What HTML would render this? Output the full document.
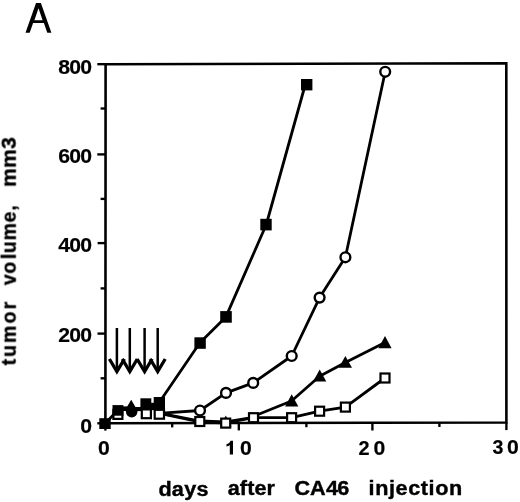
<!DOCTYPE html>
<html>
<head>
<meta charset="utf-8">
<title>A</title>
<style>
html,body{margin:0;padding:0;background:#fff;}
body{width:520px;height:502px;overflow:hidden;}
svg{display:block;position:absolute;left:0;top:0;}
text{font-family:"Liberation Sans",sans-serif;fill:#000;}
.ax{stroke:#000;stroke-width:2.35;fill:none;stroke-linecap:butt;}
.ln{stroke:#000;stroke-width:2.8;fill:none;stroke-linejoin:round;}
.fs{fill:#000;stroke:none;}
.os{fill:#fff;stroke:#000;stroke-width:2.2;}
.oc{fill:#fff;stroke:#000;stroke-width:2.4;}
.ar{stroke:#000;fill:none;}
</style>
</head>
<body>
<svg width="520" height="502" viewBox="0 0 520 502">
<defs><filter id="soft" x="-2%" y="-2%" width="104%" height="104%"><feGaussianBlur stdDeviation="0.45"/></filter></defs>
<rect x="0" y="0" width="520" height="502" fill="#fff"/>
<g filter="url(#soft)">

<!-- panel letter -->
<path class="fs" fill-rule="evenodd" d="M25.5 32.8 L36.0 3.1 L40.9 3.1 L51.4 32.8 L47.3 32.8 L43.9 23.0 L33.1 23.0 L29.7 32.8 Z M38.5 8.2 L42.6 20.3 L34.4 20.3 Z"/>
<!-- frame -->
<polygon class="ax" style="stroke-width:2.6" points="105.6,64.2 506.3,63.2 506.4,422.5 105.4,423.3"/>
<!-- y ticks -->
<g class="ax">
<line x1="97.3" y1="64.2" x2="105.6" y2="64.2"/>
<line x1="97.3" y1="154.4" x2="105.6" y2="154.4"/>
<line x1="97.6" y1="243.1" x2="105.6" y2="243.1"/>
<line x1="97.5" y1="333.6" x2="105.6" y2="333.6"/>
<line x1="97.3" y1="423.3" x2="105.6" y2="423.3"/>
<line x1="100.6" y1="108.5" x2="105.6" y2="108.5"/>
<line x1="100.6" y1="198.9" x2="105.6" y2="198.9"/>
<line x1="100.6" y1="288.4" x2="105.6" y2="288.4"/>
<line x1="100.6" y1="378.3" x2="105.6" y2="378.3"/>
</g>
<!-- x ticks -->
<g class="ax">
<line x1="105.4" y1="423.3" x2="105.4" y2="430.6"/>
<line x1="238.8" y1="423" x2="238.8" y2="430.4"/>
<line x1="372.4" y1="422.8" x2="372.4" y2="430.5"/>
<line x1="506.4" y1="422.5" x2="506.4" y2="430.1"/>
<line x1="172.2" y1="423.2" x2="172.2" y2="427.4"/>
<line x1="306.4" y1="422.9" x2="306.4" y2="427.2"/>
<line x1="439.4" y1="422.6" x2="439.4" y2="427"/>
</g>
<!-- y labels -->
<text transform="translate(91.4,73.8) scale(1.05,1.03)" font-size="20.2" font-weight="bold" stroke="#000" stroke-width="0.2" letter-spacing="-0.7" text-anchor="end" >800</text>
<text transform="translate(91.4,163.3) scale(1.05,1.03)" font-size="20.2" font-weight="bold" stroke="#000" stroke-width="0.2" letter-spacing="-0.7" text-anchor="end" >600</text>
<text transform="translate(91.4,252.4) scale(1.05,1.03)" font-size="20.2" font-weight="bold" stroke="#000" stroke-width="0.2" letter-spacing="-0.7" text-anchor="end" >400</text>
<text transform="translate(91.4,342.3) scale(1.05,1.03)" font-size="20.2" font-weight="bold" stroke="#000" stroke-width="0.2" letter-spacing="-0.7" text-anchor="end" >200</text>
<text transform="translate(91.4,433.2) scale(1.05,1.03)" font-size="20.2" font-weight="bold" stroke="#000" stroke-width="0.2" letter-spacing="-0.7" text-anchor="end" >0</text>
<!-- x labels -->
<text transform="translate(97.9,454.6) scale(1.05,1.03)" font-size="20.2" font-weight="bold" stroke="#000" stroke-width="0.2" letter-spacing="0" text-anchor="start" >0</text>
<path class="fs" transform="translate(225.3,454.6)" d="M7.7 -13.9 L5.2 -13.9 C4.7 -12.2 3.2 -10.9 1.2 -10.5 L1.2 -8.1 C2.6 -8.3 3.8 -8.8 4.5 -9.5 L4.5 0 L7.7 0 Z"/>
<text transform="translate(239.9,454.6) scale(1.05,1.03)" font-size="20.2" font-weight="bold" stroke="#000" stroke-width="0.2" letter-spacing="0" text-anchor="start" >0</text>
<text transform="translate(358.4,454.8) scale(0.985,1.03)" font-size="20.2" font-weight="bold" stroke="#000" stroke-width="0.2" letter-spacing="0" text-anchor="start" >2</text>
<text transform="translate(373.4,454.8) scale(1.05,1.03)" font-size="20.2" font-weight="bold" stroke="#000" stroke-width="0.2" letter-spacing="0" text-anchor="start" >0</text>
<text transform="translate(492.5,454.3) scale(0.97,1.03)" font-size="20.2" font-weight="bold" stroke="#000" stroke-width="0.2" letter-spacing="0" text-anchor="start" >3</text>
<text transform="translate(507.1,454.3) scale(1.05,1.03)" font-size="20.2" font-weight="bold" stroke="#000" stroke-width="0.2" letter-spacing="0" text-anchor="start" >0</text>
<!-- axis titles -->
<text transform="translate(158.4,495.7) scale(1.055,1)" font-size="20.5" font-weight="bold" stroke="#000" stroke-width="0.4" letter-spacing="0.25" text-anchor="start" >days</text>
<text transform="translate(227.7,495.1) scale(1.055,1)" font-size="20.5" font-weight="bold" stroke="#000" stroke-width="0.4" letter-spacing="0.1" text-anchor="start" >after</text>
<text transform="translate(294.5,494.9) scale(1.055,1)" font-size="20.5" font-weight="bold" stroke="#000" stroke-width="0.4" letter-spacing="-0.2" text-anchor="start" dx="0 0 0.7 -0.7">CA46</text>
<text transform="translate(368.6,494.5) scale(1.055,1)" font-size="20.5" font-weight="bold" stroke="#000" stroke-width="0.4" letter-spacing="0.55" text-anchor="start" >injection</text>
<g transform="translate(15.7,365.4) rotate(-90)">
<text transform="translate(0,0) scale(0.97,1)" font-size="20.0" font-weight="bold" stroke="#000" stroke-width="0.4" letter-spacing="2.2" text-anchor="start" >tumor</text>
<text transform="translate(80.2,0) scale(0.97,1)" font-size="20.0" font-weight="bold" stroke="#000" stroke-width="0.4" letter-spacing="0.85" text-anchor="start" dx="0 0 1.7">volume,</text>
<text transform="translate(178.5,0) scale(1.05,1)" font-size="20.0" font-weight="bold" stroke="#000" stroke-width="0.4" letter-spacing="0.3" text-anchor="start" >mm3</text>
</g>
<!-- arrows -->
<g class="ar">
<g stroke-width="2.5">
<line x1="116.9" y1="328" x2="116.9" y2="372"/>
<line x1="129.8" y1="328" x2="129.8" y2="372"/>
<line x1="144.6" y1="328" x2="144.6" y2="372"/>
<line x1="157.7" y1="328" x2="157.7" y2="372"/>
</g>
<g stroke-width="3.3" stroke-linejoin="miter">
<polyline points="109.4,359 116.9,371.6 124.4,359"/>
<polyline points="122.3,359 129.8,371.6 137.3,359"/>
<polyline points="137.1,359 144.6,371.6 152.1,359"/>
<polyline points="150.2,359 157.7,371.6 165.2,359"/>
</g>
</g>
<!-- series lines -->
<!-- open squares -->
<polyline class="ln" points="162,414 199.8,421.8 225.7,423 253.4,417.6 291.6,417.6 319.6,411.2 345.4,407.1 385,378"/>
<!-- triangles -->
<polyline class="ln" points="162,413.7 199.8,421.0 225.7,421.8 253.4,417.3 255,415.8 291.5,401 319.6,376.2 345.4,362.4 385,342.5"/>
<!-- open circles -->
<polyline class="ln" points="162,413.2 200,410.5 226,392.9 253.2,382.9 291.7,356 319.6,297.6 345.4,257.3 385.2,71.8"/>
<!-- filled squares -->
<polyline class="ln" points="105,423.6 117.8,410.3"/>
<polyline class="ln" points="159.2,402.5 199.9,342.8 225.9,316.9 266.3,224.5 305.3,84.5"/>
<!-- overlap bands between early markers -->
<g class="fs">
<rect x="122" y="406.4" width="6" height="4.6"/>
<rect x="135.5" y="407" width="6" height="4.1"/>
<rect x="150" y="402.8" width="5" height="7.4"/>
</g>
<!-- open squares -->
<g class="os">
<rect x="113.4" y="409.9" width="9" height="9"/>
<rect x="141.8" y="409.4" width="9.1" height="8.8"/>
<rect x="154.7" y="409.8" width="9.3" height="8.9"/>
<rect x="195.3" y="417.0" width="9" height="9"/>
<rect x="249.0" y="413.2" width="9" height="9"/>
<rect x="287.1" y="413.2" width="9" height="9"/>
<rect x="315.1" y="406.7" width="9" height="9"/>
<rect x="340.9" y="402.6" width="9" height="9"/>
<rect x="380.5" y="373.5" width="9" height="9"/>
</g>
<!-- triangles -->
<g class="fs">
<polygon points="131.2,399.8 137.2,410 125.2,410"/>
<polygon points="225.8,415.6 231.6,426.4 220,426.4"/>
<polygon points="291.7,394.2 298.3,406.4 285.1,406.4"/>
<polygon points="319.7,369.6 326.3,381.6 313.1,381.6"/>
<polygon points="345.4,356.1 352,367.7 338.8,367.7"/>
<polygon points="385,336 391.6,348.2 378.4,348.2"/>
</g>
<rect class="os" x="221.2" y="418.6" width="9" height="9"/>
<!-- open circles -->
<g class="oc">
<circle cx="200" cy="410.5" r="4.9"/>
<circle cx="226" cy="392.9" r="4.9"/>
<circle cx="253.2" cy="382.9" r="4.9"/>
<circle cx="291.7" cy="356" r="4.9"/>
<circle cx="319.6" cy="297.6" r="4.9"/>
<circle cx="345.4" cy="257.3" r="4.9"/>
<circle cx="385.2" cy="71.8" r="4.9"/>
</g>
<circle class="fs" cx="131.7" cy="411.6" r="5.8"/>
<!-- filled squares -->
<g class="fs">
<rect x="99.3" y="418.2" width="11.4" height="10.8"/>
<rect x="112.5" y="405.1" width="10.9" height="10.6"/>
<rect x="140.4" y="398.3" width="10.9" height="11"/>
<rect x="153.7" y="397" width="11.3" height="12.4"/>
<rect x="194.4" y="337.3" width="11.4" height="11.5"/>
<rect x="220.2" y="311.1" width="11.6" height="11.6"/>
<rect x="260.3" y="218.8" width="11.4" height="11.6"/>
<rect x="301.0" y="79.0" width="11.4" height="11.4"/>
</g>
</g>
</svg>
</body>
</html>
